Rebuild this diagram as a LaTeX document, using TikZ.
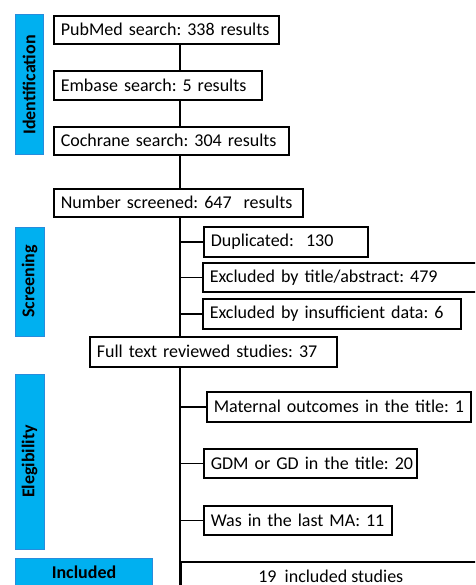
\documentclass[tikz,border=0pt]{standalone}
\usepackage{fontspec}
\setmainfont{Carlito}
\frenchspacing
\definecolor{barblue}{RGB}{0,176,240}
\definecolor{barline}{RGB}{40,140,220}
\begin{document}
\begin{tikzpicture}[x=1pt,y=-1pt,
  box/.style 2 args={draw, line width=1.6pt, anchor=north west, inner xsep=7pt, inner ysep=0pt,
    minimum height=#1, text width=#2, align=left, font=\fontsize{18}{21}\selectfont\frenchspacing},
  bar/.style={draw=barline, fill=barblue, line width=1pt, rotate=90, inner sep=0pt,
    font=\bfseries\fontsize{18}{21}\selectfont},
  conn/.style={line width=1.4pt}]
\useasboundingbox (0,0) rectangle (475,585);
\clip (0,0) rectangle (475,585);
\coordinate (spine) at (180,0);
\coordinate (bottom) at (180,590);
% phase bars
\node[bar, minimum width=140pt, minimum height=28pt] (idbar) at (29,85) {Identification};
\node[bar, minimum width=109pt, minimum height=29pt] (scbar) at (29.5,281.5) {Screening};
\node[bar, minimum width=175pt, minimum height=29pt] (elbar) at (29.5,461.5) {Elegibility};
\node[draw=barline, fill=barblue, line width=1pt, anchor=north west, minimum width=137pt,
  minimum height=32pt, inner sep=0pt, font=\bfseries\fontsize{18}{21}\selectfont] (inbar) at (15,558) {\raisebox{4pt}{Included}};
% boxes
\node[box={28pt}{211pt}] (pub) at (53,15) {\mbox{PubMed search: 338 results}};
\node[box={29pt}{194pt}] (emb) at (53,70) {\mbox{Embase search: 5 results}};
\node[box={28pt}{221pt}] (coc) at (53,126) {\mbox{Cochrane search: 304 results}};
\node[box={28pt}{235pt}] (scr) at (53,188) {\mbox{Number screened: 647\ \ results}};
\node[box={30pt}{150pt}] (dup) at (203,226) {\mbox{Duplicated:\ \ 130}};
\node[box={29pt}{265pt}] (tit) at (202,262) {\mbox{Excluded by title/abstract: 479}};
\node[box={30pt}{244pt}] (ins) at (202,298) {\mbox{Excluded by insufficient data: 6}};
\node[box={30pt}{233pt}] (ful) at (89,336) {\mbox{Full text reviewed studies: 37}};
\node[box={30pt}{250pt}] (mat) at (206,391) {\mbox{Maternal outcomes in the title: 1}};
\node[box={29pt}{199pt}] (gdm) at (203,448) {\mbox{GDM or GD in the title: 20}};
\node[box={29pt}{174pt}] (was) at (203,505) {\mbox{Was in the last MA: 11}};
\node[draw, line width=1.6pt, anchor=north west, minimum width=300pt, minimum height=30pt,
  inner sep=0pt, font=\fontsize{18}{21}\selectfont] (inc) at (180,561) {19\ \ included studies};
% connectors
\draw[conn] (spine |- pub.south) -- (spine |- emb.north);
\draw[conn] (spine |- emb.south) -- (spine |- coc.north);
\draw[conn] (spine |- coc.south) -- (spine |- scr.north);
\draw[conn] (spine |- scr.south) -- (spine |- ful.north);
\draw[conn] (spine |- ful.south) -- (bottom);
\foreach \n in {dup,tit,ins,mat,gdm,was}
  \draw[conn] (spine |- \n.west) -- (\n.west);
\end{tikzpicture}
\end{document}
